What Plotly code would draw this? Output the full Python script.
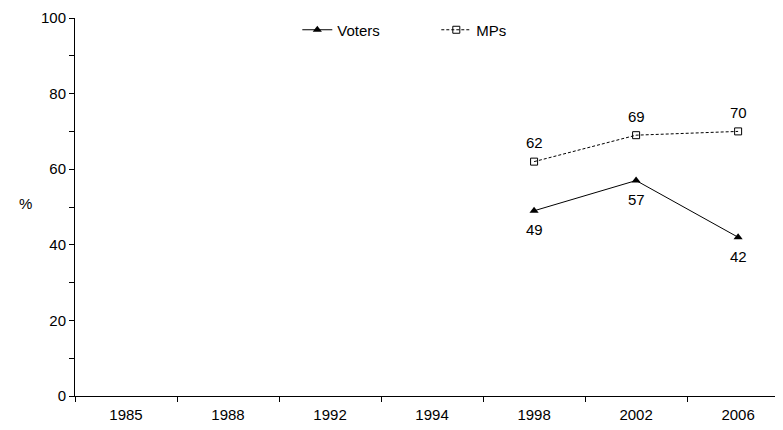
import plotly.graph_objects as go

years = ["1985", "1988", "1992", "1994", "1998", "2002", "2006"]
voters_years = ["1998", "2002", "2006"]
voters = [49, 57, 42]
mps_years = ["1998", "2002", "2006"]
mps = [62, 69, 70]

xpos = {y: i for i, y in enumerate(years)}
vx = [xpos[y] for y in voters_years]
mx = [xpos[y] for y in mps_years]

font = dict(family="Liberation Sans, Arial, sans-serif", size=15, color="black")

fig = go.Figure()
fig.add_trace(go.Scatter(
    x=vx, y=voters, name="Voters", mode="lines+markers",
    line=dict(color="black", width=1),
    marker=dict(symbol="triangle-up", size=8, color="black"),
))
fig.add_trace(go.Scatter(
    x=mx, y=mps, name="MPs", mode="lines+markers",
    line=dict(color="black", width=1, dash="3px,2px"),
    marker=dict(symbol="square-open", size=7, color="black", line=dict(width=1)),
))

for x, v in zip(vx, voters):
    fig.add_annotation(x=x, y=v, text=str(v), showarrow=False, yshift=-19, font=font)
for x, v in zip(mx, mps):
    fig.add_annotation(x=x, y=v, text=str(v), showarrow=False, yshift=19, font=font)

# y-axis title "%"
fig.add_annotation(xref="x domain", yref="y domain", x=(17 - 75) / 708, y=(396 - 203) / 378,
                   text="%", showarrow=False, font=font)

# page body has an 8px default margin; the figure is sized to fill the rest of the window
fig.update_layout(
    width=775, height=422,
    margin=dict(l=67, r=0, t=10, b=34),
    paper_bgcolor="white", plot_bgcolor="white",
    font=font,
    showlegend=True,
    legend=dict(orientation="h", x=0.314, y=(396 - 30) / 378, xanchor="left", yanchor="middle",
                bgcolor="rgba(0,0,0,0)", font=font, itemwidth=30,
                entrywidth=94, entrywidthmode="pixels", tracegroupgap=0),
)
fig.update_xaxes(
    range=[-0.5, 6.44],
    tickmode="array", tickvals=list(range(len(years))), ticktext=years,
    ticks="outside", ticklen=5, tickcolor="rgba(0,0,0,0)",
    minor=dict(tickmode="array", tickvals=[i - 0.5 for i in range(len(years))],
               ticks="outside", ticklen=5, tickcolor="black", showgrid=False),
    showline=True, linecolor="black", linewidth=1,
    showgrid=False, zeroline=False, tickfont=font,
)
fig.update_yaxes(
    range=[0, 100], tickmode="linear", tick0=0, dtick=20,
    ticks="outside", ticklen=5, tickcolor="black",
    minor=dict(dtick=10, ticks="outside", ticklen=5, tickcolor="black", showgrid=False),
    showline=True, linecolor="black", linewidth=1,
    showgrid=False, zeroline=False, tickfont=font,
)

fig.write_html("out.html")
